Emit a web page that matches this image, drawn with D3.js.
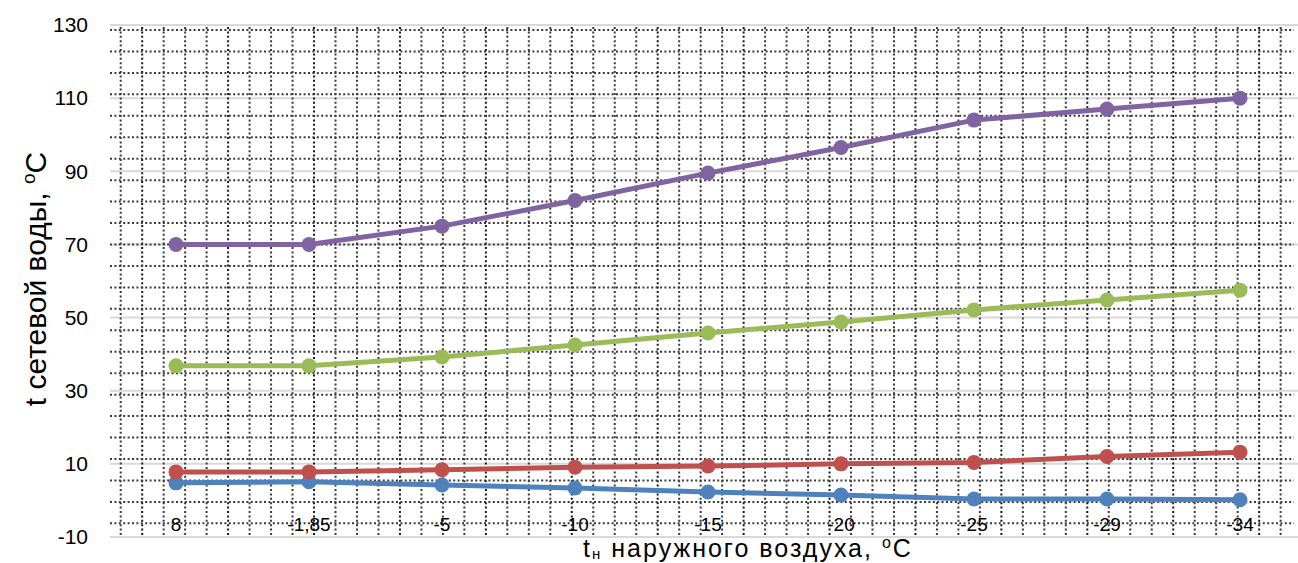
<!DOCTYPE html>
<html>
<head>
<meta charset="utf-8">
<script src="https://cdn.jsdelivr.net/npm/d3@7"></script>
<style>
  html, body { margin: 0; padding: 0; background: #fff; }
  svg { display: block; font-family: "Liberation Sans", Arial, sans-serif; }
</style>
</head>
<body>
<svg id="chart" width="1298" height="563"></svg>
<script>
// Outdoor air temperature categories (°C)
const categories = ["8", "-1,85", "-5", "-10", "-15", "-20", "-25", "-29", "-34"];

// Network water temperature series (°C)
const seriesBlue   = [4.8, 5.1, 4.2, 3.4, 2.3, 1.5, 0.4, 0.4, 0.2];
const seriesRed    = [7.8, 7.8, 8.4, 9.1, 9.4, 10.0, 10.4, 12.0, 13.2];
const seriesGreen  = [36.8, 36.8, 39.2, 42.5, 45.8, 48.8, 52.1, 54.8, 57.5];
const seriesPurple = [70, 70, 75, 82, 89.5, 96.5, 104, 107, 110];

const seriesColors = ["#4f81bd", "#c0504d", "#9bbb59", "#8064a2"];
const yTicks = [-10, 10, 30, 50, 70, 90, 110, 130];

const svg = d3.select("#chart");
const W = 1298, H = 563;

const x = d3.scaleBand().domain(categories).range([109.5, 1306.5]);
const y = d3.scaleLinear().domain([-10, 130]).range([537, 25]);
const cx = d => x(d) + x.bandwidth() / 2;

// Solid major gridlines
svg.append("g")
  .selectAll("line").data(yTicks).join("line")
  .attr("x1", 110).attr("x2", W)
  .attr("y1", d => y(d)).attr("y2", d => y(d))
  .attr("stroke", "#d9d9d9").attr("stroke-width", 2);

// Dotted graph-paper background pattern
const pat = svg.append("g");
const vx = d3.range(120.7, 1292, 21.48);
const hy = d3.range(30, 530, 21.45);
pat.selectAll("line.v").data(vx).join("line")
  .attr("class", "v")
  .attr("x1", d => d).attr("x2", d => d)
  .attr("y1", 27).attr("y2", 537)
  .attr("stroke", (d, i) => i % 4 === 1 ? "#1a1a1a" : "#3a3a3a")
  .attr("stroke-width", 2)
  .attr("stroke-dasharray", "2 2.4");
pat.selectAll("line.h").data(hy).join("line")
  .attr("class", "h")
  .attr("x1", 110).attr("x2", 1294)
  .attr("y1", d => d).attr("y2", d => d)
  .attr("stroke", "#3a3a3a")
  .attr("stroke-width", 2)
  .attr("stroke-dasharray", "2 2.4");

// Y axis labels
svg.append("g")
  .selectAll("text").data(yTicks).join("text")
  .attr("x", 88).attr("y", d => y(d))
  .attr("dy", "0.35em")
  .attr("text-anchor", "end")
  .attr("font-size", 21)
  .attr("fill", "#000")
  .text(d => d);

// Series lines and markers
const series = [seriesBlue, seriesRed, seriesGreen, seriesPurple];
const line = d3.line().x((d, i) => cx(categories[i])).y(d => y(d));
series.forEach((vals, k) => {
  const g = svg.append("g");
  g.append("path").datum(vals)
    .attr("d", line)
    .attr("fill", "none")
    .attr("stroke", seriesColors[k])
    .attr("stroke-width", 5)
    .attr("stroke-linejoin", "round");
  g.selectAll("circle").data(vals).join("circle")
    .attr("cx", (d, i) => cx(categories[i]))
    .attr("cy", d => y(d))
    .attr("r", 7.5)
    .attr("fill", seriesColors[k]);
});

// X axis labels
svg.append("g")
  .selectAll("text").data(categories).join("text")
  .attr("x", d => cx(d)).attr("y", 531)
  .attr("text-anchor", "middle")
  .attr("font-size", 19)
  .attr("fill", "#000")
  .text(d => d);

// Axis titles
const xt = svg.append("text")
  .attr("x", 748).attr("y", 557)
  .attr("text-anchor", "middle")
  .attr("font-size", 25)
  .attr("letter-spacing", 2)
  .attr("fill", "#000");
xt.append("tspan").text("t");
xt.append("tspan").attr("font-size", 15).attr("dy", 2).text("н");
xt.append("tspan").attr("dy", -2).text(" наружного воздуха, ");
xt.append("tspan").attr("font-size", 16).attr("dy", -9).text("o");
xt.append("tspan").attr("dy", 9).text("C");

const yt = svg.append("text")
  .attr("transform", "translate(46,279) rotate(-90)")
  .attr("text-anchor", "middle")
  .attr("font-size", 30)
  .attr("fill", "#000");
yt.append("tspan").text("t сетевой воды, ");
yt.append("tspan").attr("font-size", 19).attr("dy", -11).text("o");
yt.append("tspan").attr("dy", 11).text("C");
</script>
</body>
</html>
